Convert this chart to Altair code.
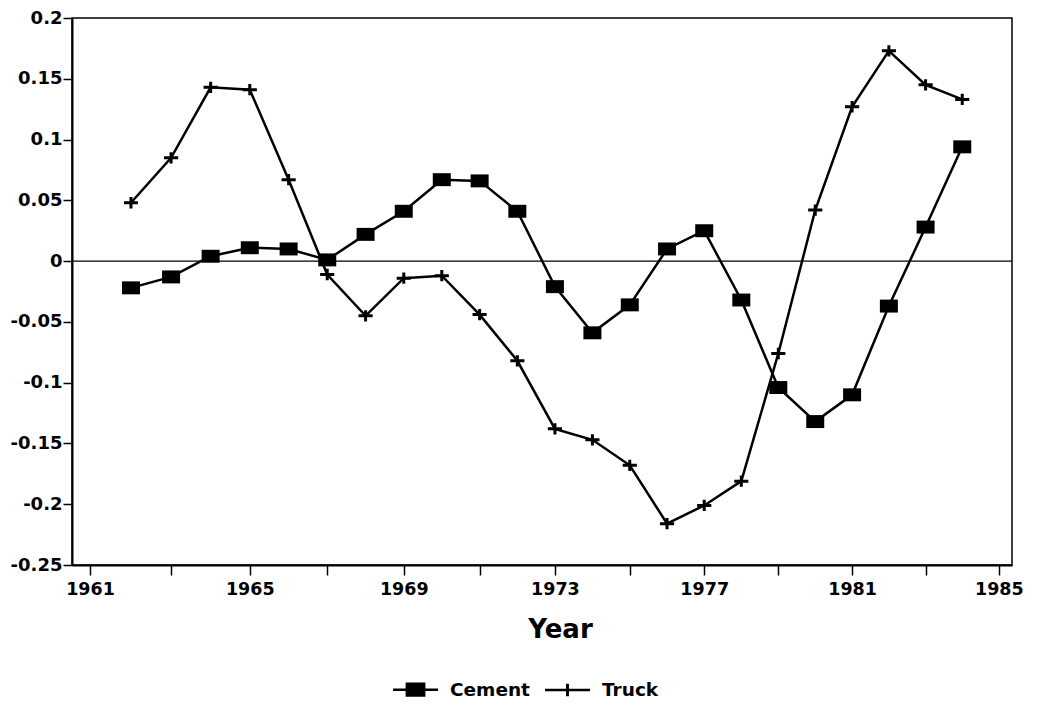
import altair as alt
import pandas as pd

years = list(range(1962, 1985))
cement = [-0.022, -0.013, 0.004, 0.011, 0.010, 0.001, 0.022, 0.041, 0.067, 0.066,
          0.041, -0.021, -0.059, -0.036, 0.010, 0.025, -0.032, -0.104, -0.132, -0.110,
          -0.037, 0.028, 0.094]
truck = [0.048, 0.085, 0.143, 0.141, 0.067, -0.011, -0.045, -0.014, -0.012, -0.044,
         -0.082, -0.138, -0.147, -0.168, -0.216, -0.201, -0.181, -0.076, 0.042, 0.127,
         0.173, 0.145, 0.133]
series_names = ["Cement", "Truck"]
y_ticks = [-0.25, -0.2, -0.15, -0.1, -0.05, 0, 0.05, 0.1, 0.15, 0.2]
base_year = 1960
x_ticks = [y - base_year for y in range(1961, 1986)]  # years since 1960
zero_line = [0]

df = pd.DataFrame({
    "Year": years * 2,
    "Value": cement + truck,
    "Series": ["Cement"] * len(years) + ["Truck"] * len(years),
})
zero_df = pd.DataFrame({"y": zero_line})

FONT = "DejaVu Sans"

# slightly compressive scale, mimicking the scanned original's axis spacing
x_scale = alt.Scale(type="pow", exponent=0.96, domain=[0.571, 25.36], nice=False, zero=False)

x_enc = alt.X(
    "T:Q",
    scale=x_scale,
    axis=alt.Axis(
        values=x_ticks,
        labelExpr="(datum.value - 1) % 4 == 0 ? format(datum.value + 1960, 'd') : ''",
        tickSize=10, tickWidth=1.5, tickColor="black",
        domainColor="black", domainWidth=2,
        labelFont=FONT, labelFontSize=17.5, labelFontWeight="bold",
        labelColor="black", labelPadding=5, labelFlush=False,
        title="Year", titleFont=FONT, titleFontSize=26, titleFontWeight="bold",
        titleColor="black", titlePadding=19, titleX=488, titleAlign="center",
        grid=False,
    ),
)
y_enc = alt.Y(
    "Value:Q",
    scale=alt.Scale(domain=[-0.25, 0.2], nice=False, zero=False),
    axis=alt.Axis(
        values=y_ticks,
        labelExpr="replace(format(datum.value, '.2~f'), '\u2212', '-')",
        tickSize=9, tickWidth=1.5, tickColor="black",
        domainColor="black", domainWidth=2,
        labelFont=FONT, labelFontSize=18, labelFontWeight="bold",
        labelColor="black", labelPadding=1,
        title=None, grid=False,
    ),
)

base = alt.Chart(df).transform_calculate(T=f"datum.Year - {base_year}")

lines = base.mark_line(color="black", strokeWidth=2.5).encode(
    x=x_enc, y=y_enc, detail="Series:N"
)

cement_pts = base.transform_filter(alt.datum.Series == "Cement").mark_point(
    shape="M-1,-0.72L1,-0.72L1,0.72L-1,0.72Z", filled=True, size=324,
    color="black", opacity=1
).encode(x="T:Q", y="Value:Q")

truck_pts = base.transform_filter(alt.datum.Series == "Truck").mark_point(
    shape="M-1,0L1,0M0,-0.8L0,0.8", filled=False, size=200, color="black",
    strokeWidth=3, opacity=1
).encode(x="T:Q", y="Value:Q")

# legend symbols: line + marker, drawn as filled outlines
legend_layer = base.mark_point(
    size=0, filled=True, color="black", opacity=1
).encode(
    x="T:Q", y="Value:Q",
    shape=alt.Shape(
        "Series:N",
        scale=alt.Scale(
            domain=series_names,
            range=[
                "M-1,-0.055L1,-0.055L1,0.055L-1,0.055Z"
                "M-0.44,-0.32L0.44,-0.32L0.44,0.32L-0.44,0.32Z",
                "M-1,-0.055L1,-0.055L1,0.055L-1,0.055Z"
                "M-0.065,-0.28L0.065,-0.28L0.065,0.28L-0.065,0.28Z",
            ],
        ),
        legend=alt.Legend(
            title=None, orient="none", direction="horizontal",
            legendX=320, legendY=648,
            symbolSize=2025,
            symbolFillColor="black",
            labelFont=FONT, labelFontSize=18.5, labelFontWeight="bold",
            labelColor="black", labelOffset=11, columnPadding=12,
        ),
    ),
)

zero_rule = alt.Chart(zero_df).mark_rule(color="black", strokeWidth=1.2).encode(
    y=alt.Y("y:Q")
)

chart = alt.layer(zero_rule, lines, cement_pts, truck_pts, legend_layer).properties(
    width=940, height=547,
    autosize=alt.AutoSizeParams(type="none"),
    padding={"left": 64, "top": 10, "right": 28, "bottom": 143},
    background="white",
).configure_view(stroke="black", strokeWidth=1.5)

chart.save("out.html", embed_options={"renderer": "svg", "actions": False})
